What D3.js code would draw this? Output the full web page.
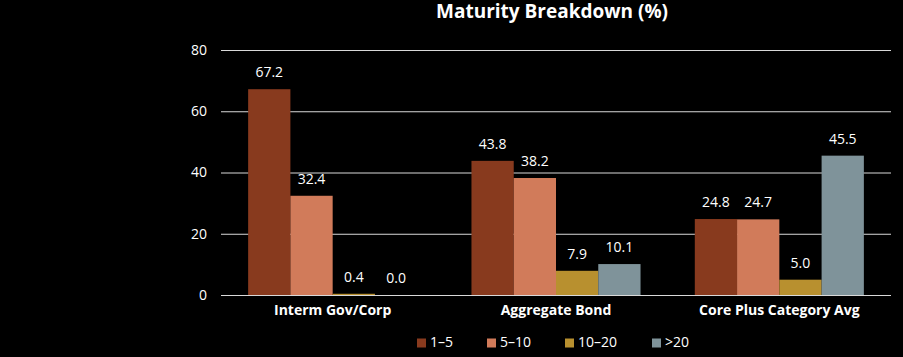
<!DOCTYPE html>
<html><head><meta charset="utf-8">
<script src="https://cdn.jsdelivr.net/npm/d3@7"></script>
<style>html,body{margin:0;padding:0;background:#000;}svg{display:block;}</style>
</head><body>
<svg id="c" width="903" height="357"></svg>
<script>
const categories = ["Interm Gov/Corp", "Aggregate Bond", "Core Plus Category Avg"];
const seriesNames = ["1\u20135", "5\u201310", "10\u201320", ">20"];
const s1to5 = [67.2, 43.8, 24.8];
const s5to10 = [32.4, 38.2, 24.7];
const s10to20 = [0.4, 7.9, 5.0];
const sOver20 = [0.0, 10.1, 45.5];
const yTicks = [0, 20, 40, 60, 80];
const colors = ["#883a1e", "#d17b5a", "#b8902f", "#7f939a"];

const series = [s1to5, s5to10, s10to20, sOver20];
const svg = d3.select("#c");
const font = "'Open Sans', sans-serif";
const W = 903, H = 357;
const x0 = 221, x1 = 891, yTop = 50, yBot = 295;

svg.append("rect").attr("width", W).attr("height", H).attr("fill", "#000");

const x = d3.scaleBand().domain(categories).range([x0, x1]).paddingInner(0.243).paddingOuter(0.1215);
const xs = d3.scaleBand().domain(seriesNames).range([0, x.bandwidth()]);
const y = d3.scaleLinear().domain([0, 80]).range([yBot, yTop]);

// gridlines
const yAxis = d3.axisLeft(y).tickValues(yTicks).tickSize(-(x1 - x0)).tickPadding(14).tickFormat(d3.format("d"));
const ga = svg.append("g").attr("transform", `translate(${x0},0)`).call(yAxis);
ga.select(".domain").remove();
ga.selectAll(".tick line").attr("stroke", "#d9d9d9").attr("stroke-width", 1);
ga.selectAll(".tick text").attr("fill", "#fff").style("font-family", font).style("font-size", "14px");

// bars
const groups = svg.append("g").selectAll("g").data(categories).join("g")
  .attr("transform", d => `translate(${x(d)},0)`);
seriesNames.forEach((s, si) => {
  groups.append("rect")
    .attr("x", xs(s)).attr("width", xs.bandwidth())
    .attr("y", (d, i) => y(series[si][i]))
    .attr("height", (d, i) => yBot - y(series[si][i]))
    .attr("fill", colors[si]);
  groups.append("text")
    .attr("x", xs(s) + xs.bandwidth() / 2)
    .attr("y", (d, i) => y(series[si][i]) - 12)
    .attr("text-anchor", "middle")
    .attr("fill", "#fff")
    .style("font-family", font).style("font-size", "14px")
    .text((d, i) => series[si][i].toFixed(1));
});

// x axis labels
const xAxis = d3.axisBottom(x).tickSize(0).tickPadding(10);
const gx = svg.append("g").attr("transform", `translate(0,${yBot})`).call(xAxis);
gx.select(".domain").remove();
gx.selectAll(".tick text").attr("fill", "#fff").style("font-family", font).style("font-size", "14px").style("font-weight", "bold");

// title
svg.append("text").attr("x", 552).attr("y", 18).attr("text-anchor", "middle")
  .attr("fill", "#fff").style("font-family", font).style("font-size", "19px").style("font-weight", "bold")
  .text("Maturity Breakdown (%)");

// legend
const legendX = [417, 487, 565, 652];
const lg = svg.append("g").selectAll("g").data(seriesNames).join("g")
  .attr("transform", (d, i) => `translate(${legendX[i]},338.5)`);
lg.append("rect").attr("width", 9).attr("height", 9).attr("fill", (d, i) => colors[i]);
lg.append("text").attr("x", 13).attr("y", 8.8).attr("fill", "#fff")
  .style("font-family", font).style("font-size", "14px").text(d => d);
</script>
</body></html>
